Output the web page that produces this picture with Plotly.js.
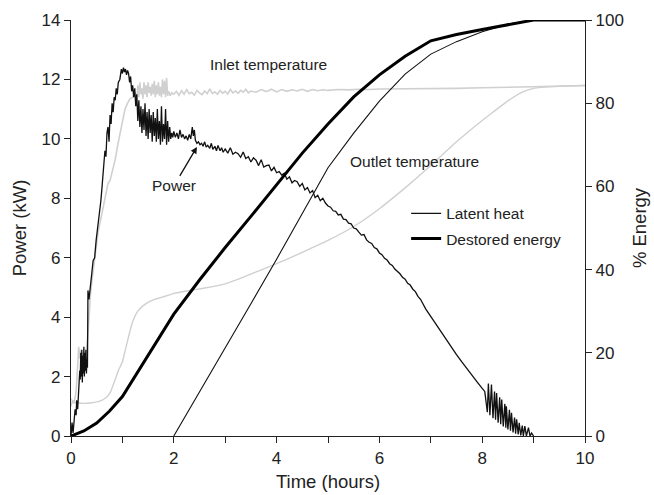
<!DOCTYPE html>
<html>
<head>
<meta charset="utf-8">
<script src="https://cdn.plot.ly/plotly-3.0.1.min.js"></script>
<style>html,body{margin:0;padding:0;background:#fff;}#chart{width:654px;height:495px;}</style>
</head>
<body>
<div id="chart"></div>
<script>
// ---- Power (kW), left axis ----
const powerT = [0.00,0.02,0.04,0.06,0.08,0.10,0.11,0.13,0.15,0.17,0.18,0.19,0.20,0.21,0.22,0.23,0.24,0.25,0.26,0.27,0.28,0.29,0.30,0.31,0.32,0.33,0.35,0.37,0.40,0.43,0.46,0.49,0.52,0.55,0.58,0.60,0.62,0.64,0.66,0.68,0.70,0.72,0.74,0.76,0.78,0.80,0.82,0.84,0.86,0.88,0.90,0.92,0.95,0.98,1.00,1.02,1.04,1.06,1.08,1.10,1.12,1.14,1.16,1.18,1.20,1.22,1.24,1.26,1.28,1.30,1.32,1.34,1.36,1.38,1.40,1.42,1.44,1.46,1.48,1.50,1.52,1.54,1.56,1.58,1.60,1.62,1.64,1.66,1.68,1.70,1.72,1.74,1.76,1.78,1.80,1.82,1.84,1.86,1.88,1.90,1.92,1.94,1.96,1.98,2.00,2.03,2.06,2.09,2.12,2.15,2.18,2.21,2.24,2.27,2.30,2.33,2.36,2.38,2.40,2.42,2.45,2.48,2.51,2.54,2.57,2.60,2.63,2.66,2.70,2.73,2.76,2.80,2.83,2.86,2.90,2.93,2.96,3.00,3.05,3.10,3.15,3.20,3.25,3.30,3.35,3.40,3.45,3.50,3.55,3.60,3.65,3.70,3.75,3.80,3.85,3.90,3.95,4.00,4.05,4.10,4.15,4.20,4.25,4.30,4.35,4.40,4.45,4.50,4.55,4.60,4.65,4.70,4.75,4.80,4.85,4.90,4.95,5.00,5.05,5.10,5.15,5.20,5.25,5.30,5.35,5.40,5.45,5.50,5.55,5.60,5.65,5.70,5.75,5.80,5.85,5.90,5.95,6.00,6.05,6.10,6.15,6.20,6.25,6.30,6.35,6.40,6.45,6.50,6.55,6.60,6.65,6.70,6.75,6.80,6.90,7.00,7.10,7.20,7.30,7.40,7.50,7.60,7.70,7.80,7.90,8.00,8.05,8.10,8.12,8.15,8.18,8.21,8.24,8.26,8.28,8.31,8.34,8.36,8.38,8.41,8.44,8.46,8.47,8.50,8.53,8.55,8.57,8.60,8.63,8.65,8.67,8.70,8.72,8.75,8.78,8.80,8.83,8.86,8.90,8.93,8.96,9.00];
const powerKW = [0.0,0.45,0.1,0.5,0.9,0.7,1.2,0.9,1.6,2.2,1.9,2.8,2.0,2.9,1.8,2.7,2.1,3.0,2.0,2.8,2.2,2.9,2.1,2.6,2.3,4.9,4.6,5.0,5.4,5.9,6.0,6.6,7.0,7.4,7.9,8.3,8.7,9.2,9.6,9.4,10.2,10.4,9.9,10.8,10.5,11.2,10.9,11.4,11.3,11.7,11.5,11.9,12.0,12.35,12.2,12.4,12.25,12.35,12.15,12.3,12.2,11.9,12.1,11.6,11.8,11.4,11.7,11.1,11.5,10.6,11.3,10.4,11.1,10.2,11.0,10.3,11.2,10.1,10.9,10.0,11.0,10.2,10.8,9.9,10.9,10.1,10.7,9.9,11.0,10.0,10.6,9.8,11.1,9.9,10.5,10.0,11.0,9.8,10.6,9.9,10.4,10.0,10.2,10.05,10.25,10.05,10.2,10.0,10.3,10.05,10.15,10.0,10.1,9.95,10.15,10.0,10.4,10.1,10.3,9.95,9.85,9.9,9.8,9.85,9.75,9.9,9.72,9.78,9.68,9.85,9.65,9.75,9.6,9.78,9.6,9.7,9.55,9.66,9.52,9.7,9.48,9.55,9.5,9.38,9.56,9.34,9.4,9.22,9.36,9.28,9.1,9.3,9.05,9.1,9.12,8.92,9.04,8.86,8.9,8.78,8.84,8.64,8.72,8.52,8.6,8.56,8.4,8.5,8.28,8.36,8.18,8.26,8.02,8.1,7.92,8.0,7.84,7.74,7.7,7.58,7.56,7.44,7.46,7.3,7.28,7.16,7.14,7.0,6.97,6.86,6.76,6.78,6.6,6.52,6.48,6.34,6.3,6.16,6.1,5.98,5.92,5.8,5.74,5.62,5.54,5.46,5.34,5.28,5.14,5.08,4.94,4.86,4.7,4.6,4.28,4.02,3.74,3.48,3.22,2.98,2.74,2.5,2.26,2.04,1.82,1.6,1.5,0.8,1.77,0.7,1.73,0.6,1.5,0.55,1.45,0.45,1.3,0.4,1.23,0.32,1.08,0.28,1.0,0.22,0.88,0.18,0.78,0.12,0.62,0.08,0.56,0.05,0.44,0.02,0.35,0.0,0.33,0.0,0.28,0.0,0.1,0.0];

// ---- Inlet temperature (scaled to left axis) ----
const inletT = [0.00,0.03,0.06,0.10,0.13,0.15,0.17,0.19,0.21,0.23,0.25,0.28,0.32,0.35,0.38,0.42,0.46,0.50,0.53,0.58,0.63,0.68,0.72,0.76,0.80,0.86,0.91,0.96,1.00,1.05,1.10,1.15,1.20,1.25,1.28,1.30,1.32,1.34,1.36,1.38,1.40,1.42,1.44,1.46,1.48,1.50,1.52,1.54,1.56,1.58,1.60,1.62,1.64,1.66,1.68,1.70,1.72,1.74,1.76,1.78,1.80,1.82,1.84,1.86,1.88,1.90,1.93,1.96,2.00,2.05,2.10,2.15,2.20,2.25,2.30,2.35,2.40,2.45,2.50,2.55,2.60,2.65,2.70,2.75,2.80,2.85,2.90,2.95,3.00,3.05,3.10,3.15,3.20,3.25,3.30,3.35,3.40,3.45,3.50,3.60,3.70,3.80,3.90,4.00,4.10,4.20,4.30,4.40,4.50,4.60,4.70,4.80,4.90,5.00,5.20,5.40,5.60,5.80,6.00,6.50,7.00,7.50,8.00,8.50,9.00,9.50,10.00];
const inletVal = [1.0,1.2,1.1,1.5,2.4,3.0,2.6,2.9,2.5,2.8,2.6,2.7,3.2,4.2,4.8,5.4,5.9,6.4,6.9,7.3,7.7,8.2,8.5,8.6,8.9,9.3,9.8,10.2,10.6,11.0,11.2,11.35,11.4,11.55,11.3,11.8,11.4,11.9,11.5,11.7,11.35,11.9,11.5,11.8,11.4,11.9,11.55,11.75,11.45,11.85,11.5,11.95,11.4,11.8,11.5,11.9,11.45,11.75,11.4,12.0,11.5,11.95,11.4,12.05,11.45,11.6,11.45,11.55,11.5,11.6,11.46,11.62,11.5,11.66,11.52,11.57,11.47,11.63,11.55,11.49,11.61,11.52,11.68,11.53,11.58,11.5,11.63,11.54,11.6,11.51,11.66,11.55,11.61,11.53,11.63,11.57,11.67,11.55,11.61,11.57,11.66,11.59,11.67,11.58,11.66,11.6,11.65,11.61,11.67,11.6,11.66,11.62,11.65,11.63,11.66,11.65,11.67,11.66,11.68,11.68,11.69,11.7,11.72,11.74,11.76,11.77,11.79];

// ---- Outlet temperature (scaled to left axis) ----
const outletT = [0.00,0.05,0.10,0.20,0.30,0.40,0.50,0.60,0.70,0.76,0.80,0.86,0.92,1.00,1.05,1.10,1.15,1.20,1.25,1.30,1.40,1.50,1.60,1.73,1.90,2.00,2.50,3.00,3.50,4.00,4.50,5.00,5.50,6.00,6.50,7.00,7.50,8.00,8.25,8.50,8.75,9.00,9.50,10.00];
const outletVal = [1.25,1.15,1.12,1.1,1.1,1.12,1.15,1.2,1.32,1.45,1.62,1.9,2.2,2.5,2.85,3.2,3.55,3.85,4.05,4.2,4.38,4.5,4.58,4.65,4.74,4.8,4.95,5.12,5.45,5.8,6.18,6.58,7.05,7.65,8.35,9.1,9.9,10.62,10.95,11.28,11.55,11.7,11.77,11.8];

// ---- % Energy, right axis ----
const latentT = [2.0,2.5,3.0,3.5,4.0,4.5,5.0,5.5,6.0,6.5,7.0,7.5,8.0,8.5,9.0,10.0];
const latentPct = [0,10.5,21,31.8,42.5,53.5,64.5,72.8,80.5,87,91.8,94.8,97.2,99,100,100];
const destoredT = [0,0.25,0.5,0.75,1.0,1.5,2.0,2.5,3.0,3.5,4.0,4.5,5.0,5.5,6.0,6.5,7.0,7.5,8.0,8.5,9.0,10.0];
const destoredPct = [0,1.2,3.1,6,9.5,19.5,29.3,37.5,45.3,52.8,60.5,68,75,81.5,86.8,91.3,95,96.5,97.7,98.8,100,100];

// ---- ticks ----
const xTickVals = [0,1,2,3,4,5,6,7,8,9,10];
const xTickText = ['0','','2','','4','','6','','8','','10'];

const FONT = 'Liberation Sans, Arial, Helvetica, sans-serif';

const traces = [
  {x: inletT, y: inletVal, type:'scatter', mode:'lines', line:{color:'#d0d0d0', width:1.6}, showlegend:false, hoverinfo:'skip'},
  {x: outletT, y: outletVal, type:'scatter', mode:'lines', line:{color:'#d0d0d0', width:1.4, shape:'spline', smoothing:0.6}, showlegend:false, hoverinfo:'skip'},
  {x: powerT, y: powerKW, type:'scatter', mode:'lines', line:{color:'#111', width:1.3}, showlegend:false},
  {x: latentT, y: latentPct, yaxis:'y2', type:'scatter', mode:'lines', name:'Latent heat', legendgroup:'a', line:{color:'#111', width:1.1}},
  {x: destoredT, y: destoredPct, yaxis:'y2', type:'scatter', mode:'lines', name:'Destored energy', legendgroup:'b', line:{color:'#000', width:3}}
];

const layout = {
  width:654, height:495,
  margin:{l:71, r:69, t:20, b:58.5},
  paper_bgcolor:'#fff', plot_bgcolor:'#fff',
  font:{family:FONT, size:17, color:'#222'},
  showlegend:true,
  legend:{x:0.652, y:0.575, xanchor:'left', yanchor:'top', bgcolor:'rgba(0,0,0,0)', font:{size:15.5, family:FONT, color:'#222'}, tracegroupgap:2, itemwidth:30},
  xaxis:{range:[0,10], tickvals:xTickVals, ticktext:xTickText, ticks:'outside', ticklen:6, tickcolor:'#222', showline:true, linecolor:'#222', linewidth:1.2, showgrid:false, zeroline:false, tickfont:{size:17}, title:{text:'Time (hours)', font:{size:18.5}, standoff:8}},
  yaxis:{range:[0,14], dtick:2, ticks:'outside', ticklen:6, tickcolor:'#222', showline:true, linecolor:'#222', linewidth:1.2, showgrid:false, zeroline:false, tickfont:{size:17}, title:{text:'Power (kW)', font:{size:18.5}, standoff:10}},
  yaxis2:{range:[0,100], dtick:20, overlaying:'y', side:'right', ticks:'outside', ticklen:6, tickcolor:'#222', showline:true, linecolor:'#222', linewidth:1.2, showgrid:false, zeroline:false, tickfont:{size:17}, title:{text:'% Energy', font:{size:18.5}, standoff:10}},
  annotations:[
    {x:3.84, y:12.49, xref:'x', yref:'y', text:'Inlet temperature', showarrow:false, font:{size:15.5, color:'#222'}},
    {x:6.69, y:9.24, xref:'x', yref:'y', text:'Outlet temperature', showarrow:false, font:{size:15.5, color:'#222'}},
    {x:2.45, y:9.73, xref:'x', yref:'y', text:'Power', showarrow:true, arrowhead:2, arrowsize:1, arrowwidth:1.3, arrowcolor:'#111', ax:-23, ay:39, standoff:0, font:{size:15.5, color:'#222'}}
  ]
};

Plotly.newPlot('chart', traces, layout, {displayModeBar:false, staticPlot:true});
</script>
</body>
</html>
